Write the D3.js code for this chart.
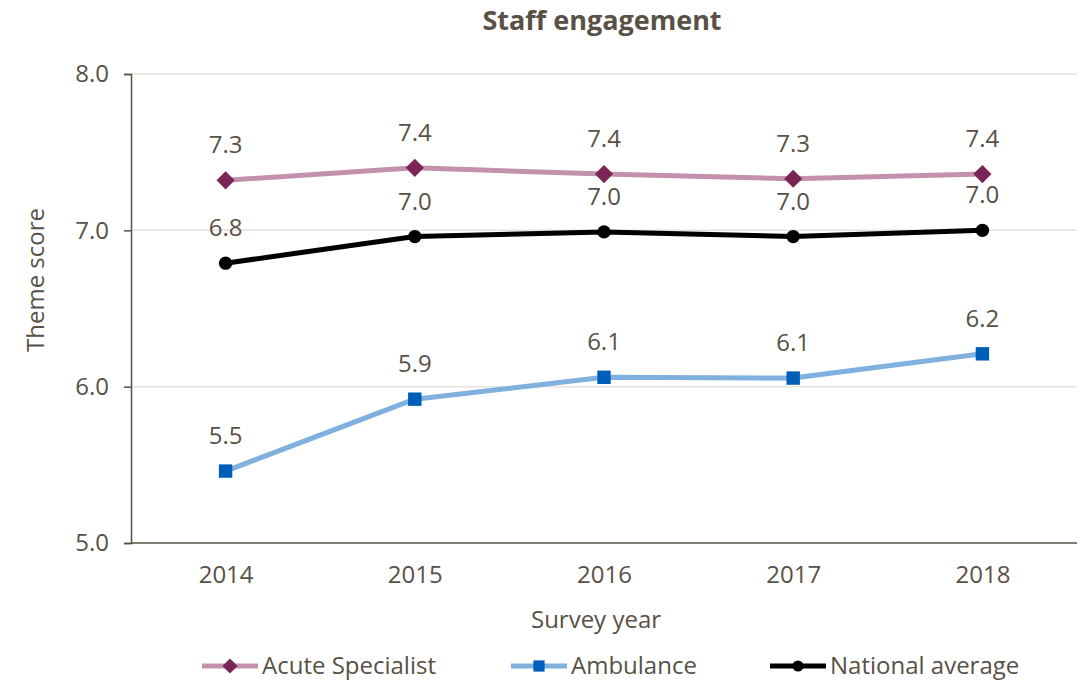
<!DOCTYPE html>
<html>
<head>
<meta charset="utf-8">
<script src="https://cdn.jsdelivr.net/npm/d3@7"></script>
<style>
  body { margin: 0; background: #fff; }
  text { font-family: "Open Sans", sans-serif; fill: #595046; }
</style>
</head>
<body>
<div id="chart"></div>
<script>
// Staff engagement line chart

const years = ["2014", "2015", "2016", "2017", "2018"];
const acuteSpecialist = [7.32, 7.40, 7.36, 7.33, 7.36];
const ambulance = [5.46, 5.92, 6.06, 6.055, 6.21];
const nationalAverage = [6.79, 6.96, 6.99, 6.96, 7.00];
const yTicks = [5.0, 6.0, 7.0, 8.0];

const width = 1081;
const height = 681;
const margin = { top: 74, right: 4, bottom: 138, left: 131 };
const fs = 24;

const svg = d3.select("#chart").append("svg")
    .attr("width", width)
    .attr("height", height);

const x = d3.scalePoint()
    .domain(years)
    .range([margin.left, width - margin.right])
    .padding(0.5);

const y = d3.scaleLinear()
    .domain([5, 8])
    .range([height - margin.bottom, margin.top]);

// 网格线
svg.append("g")
    .selectAll("line")
    .data(yTicks.filter(d => d > 5))
    .join("line")
    .attr("x1", margin.left)
    .attr("x2", width - margin.right)
    .attr("y1", d => y(d))
    .attr("y2", d => y(d))
    .attr("stroke", "#e6e2dd")
    .attr("stroke-width", 1.5);

// Y 轴
const yAxis = svg.append("g")
    .attr("transform", `translate(${margin.left},0)`)
    .call(d3.axisLeft(y).tickValues(yTicks).tickFormat(d3.format(".1f")).tickSize(7).tickPadding(15));
yAxis.select(".domain").attr("stroke", "#595046").attr("stroke-width", 1.5);
yAxis.selectAll(".tick line").attr("stroke", "#595046").attr("stroke-width", 1.5);
yAxis.selectAll(".tick text").attr("font-size", fs).attr("fill", "#595046");

// X 轴
const xAxis = svg.append("g")
    .attr("transform", `translate(0,${y(5)})`)
    .call(d3.axisBottom(x).tickSize(0).tickPadding(23));
xAxis.select(".domain")
    .attr("d", `M${margin.left},0H${width - margin.right}`)
    .attr("stroke", "#595046").attr("stroke-width", 1.5);
xAxis.selectAll(".tick text").attr("font-size", fs).attr("fill", "#595046");

// 标题
svg.append("text")
    .attr("x", 602)
    .attr("y", 30)
    .attr("text-anchor", "middle")
    .attr("font-size", 27)
    .attr("font-weight", "bold")
    .text("Staff engagement");

svg.append("text")
    .attr("x", 596)
    .attr("y", 628)
    .attr("text-anchor", "middle")
    .attr("font-size", fs)
    .text("Survey year");

svg.append("text")
    .attr("transform", "translate(44,280) rotate(-90)")
    .attr("text-anchor", "middle")
    .attr("font-size", fs)
    .text("Theme score");

// 系列
const series = [
    { name: "Acute Specialist", values: acuteSpecialist, line: "#c391ab", marker: "#7b2556", shape: d3.symbolSquare, rot: 45, size: 165, legendX: 202 },
    { name: "Ambulance", values: ambulance, line: "#7fb0de", marker: "#005eb8", shape: d3.symbolSquare, rot: 0, size: 180, legendX: 511 },
    { name: "National average", values: nationalAverage, line: "#000000", marker: "#000000", shape: d3.symbolCircle, rot: 0, size: 140, legendX: 770 }
];

const line = d3.line()
    .x((d, i) => x(years[i]))
    .y(d => y(d));

series.forEach(s => {
    svg.append("path")
        .datum(s.values)
        .attr("fill", "none")
        .attr("stroke", s.line)
        .attr("stroke-width", 5)
        .attr("stroke-linejoin", "round")
        .attr("d", line);

    svg.append("g")
        .selectAll("path")
        .data(s.values)
        .join("path")
        .attr("transform", (d, i) => `translate(${x(years[i])},${y(d)}) rotate(${s.rot})`)
        .attr("d", d3.symbol().type(s.shape).size(s.size))
        .attr("fill", s.marker);

    svg.append("g")
        .selectAll("text")
        .data(s.values)
        .join("text")
        .attr("x", (d, i) => x(years[i]))
        .attr("y", d => y(d) - 27)
        .attr("text-anchor", "middle")
        .attr("font-size", fs)
        .text(d => d.toFixed(1));

    // 图例
    const lg = svg.append("g").attr("transform", `translate(${s.legendX},666)`);
    lg.append("line")
        .attr("x1", 0).attr("x2", 56)
        .attr("stroke", s.line)
        .attr("stroke-width", 5);
    lg.append("path")
        .attr("transform", `translate(28,0) rotate(${s.rot})`)
        .attr("d", d3.symbol().type(s.shape).size(s.size * 0.7))
        .attr("fill", s.marker);
    lg.append("text")
        .attr("x", 60)
        .attr("y", 8)
        .attr("font-size", fs)
        .text(s.name);
});
</script>
</body>
</html>
